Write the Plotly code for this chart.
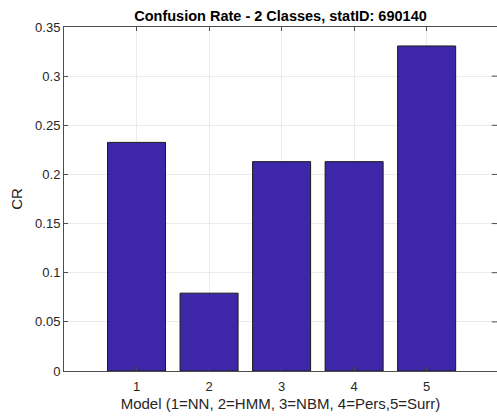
import plotly.graph_objects as go

# Confusion rate per model
models = [1, 2, 3, 4, 5]
cr_values = [0.2326, 0.0792, 0.2130, 0.2130, 0.3307]
y_ticks = [0, 0.05, 0.1, 0.15, 0.2, 0.25, 0.3, 0.35]
y_tick_labels = ["0", "0.05", "0.1", "0.15", "0.2", "0.25", "0.3", "0.35"]

axis_col = "#4d4d4d"
grid_col = "#ebebeb"
font_col = "#262626"

fig = go.Figure(
    go.Bar(
        x=models,
        y=cr_values,
        width=0.8,
        marker=dict(color="rgb(62,38,168)", line=dict(color="#1a1a1a", width=1)),
    )
)

# small inward ticks along the right edge
shapes = []
for v in y_ticks[1:-1]:
    shapes.append(dict(type="line", xref="paper", yref="y", x0=0.988, x1=1.0,
                       y0=v, y1=v, line=dict(color=axis_col, width=1)))

fig.update_layout(
    width=497,
    height=417,
    margin=dict(l=64, r=0, t=27, b=46),
    paper_bgcolor="white",
    plot_bgcolor="white",
    showlegend=False,
    font=dict(family="Liberation Sans, Arial, sans-serif", size=13, color=font_col),
    title=dict(
        text="<b>Confusion Rate - 2 Classes, statID: 690140</b>",
        x=(64 + 497) / 2 / 497,
        xanchor="center",
        y=1 - 16 / 417,
        yanchor="middle",
        font=dict(size=14.5, color="#000000"),
    ),
    shapes=shapes,
    xaxis=dict(
        range=[0, 5.97],
        tickmode="array",
        tickvals=models,
        ticktext=[str(m) for m in models],
        ticks="inside",
        ticklen=4,
        tickcolor=axis_col,
        ticklabelstandoff=3,
        showline=True,
        linecolor=axis_col,
        linewidth=1,
        mirror="ticks",
        showgrid=True,
        gridcolor=grid_col,
        zeroline=False,
        title=dict(text="Model (1=NN, 2=HMM, 3=NBM, 4=Pers,5=Surr)", standoff=5,
                   font=dict(size=15, color=font_col)),
        tickfont=dict(size=13, color=font_col),
    ),
    yaxis=dict(
        range=[0, 0.35],
        tickmode="array",
        tickvals=y_ticks,
        ticktext=y_tick_labels,
        ticks="inside",
        ticklen=4,
        tickcolor=axis_col,
        showline=True,
        linecolor=axis_col,
        linewidth=1,
        showgrid=True,
        gridcolor=grid_col,
        zeroline=False,
        title=dict(text="CR", standoff=8, font=dict(size=15, color=font_col)),
        tickfont=dict(size=13, color=font_col),
    ),
)

fig.write_html("out.html")
